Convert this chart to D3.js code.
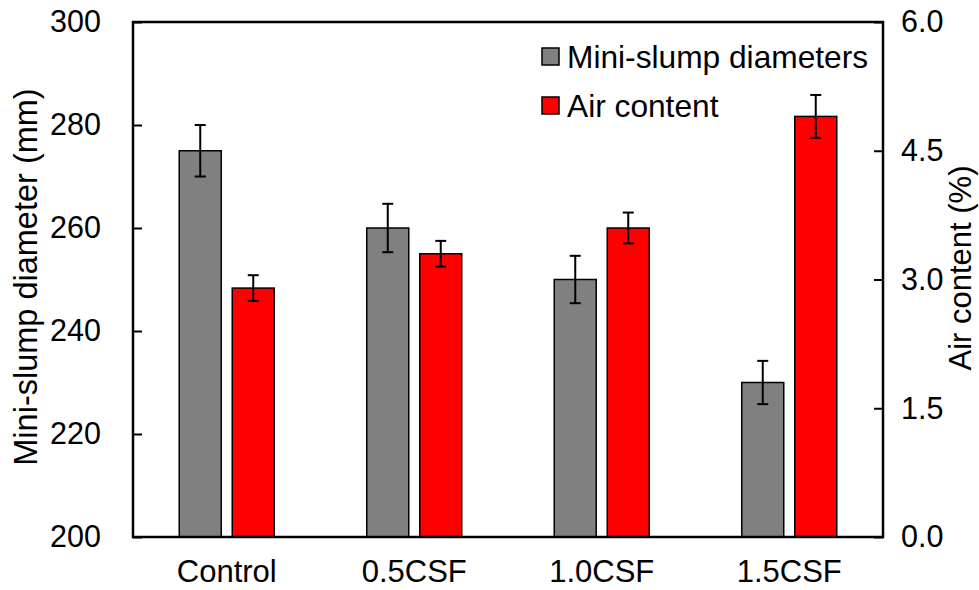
<!DOCTYPE html>
<html>
<head>
<meta charset="utf-8">
<script src="https://cdn.jsdelivr.net/npm/d3@7"></script>
<style>
  html, body { margin: 0; padding: 0; background: #fff; }
  svg { display: block; font-family: "Liberation Sans", Arial, sans-serif; }
</style>
</head>
<body>
<svg id="chart" width="979" height="590"></svg>
<script>
// data
const categories = ['Control', '0.5CSF', '1.0CSF', '1.5CSF'];
const slumpValues = [275, 260, 250, 230];
const slumpErrors = [5, 4.7, 4.6, 4.2];
const airValues = [2.9, 3.3, 3.6, 4.9];
const airErrors = [0.15, 0.15, 0.18, 0.25];
const leftTicks = [200, 220, 240, 260, 280, 300];
const rightTicks = [0, 1.5, 3.0, 4.5, 6.0];
const seriesNames = ['Mini-slump diameters', 'Air content'];
const seriesColors = ['#808080', '#ff0000'];

const margin = {top: 22, right: 96, bottom: 53, left: 133};
const W = 979, H = 590;
const w = W - margin.left - margin.right;
const h = H - margin.top - margin.bottom;

const svg = d3.select('#chart');
const g = svg.append('g').attr('transform', `translate(${margin.left},${margin.top})`);

const x = d3.scaleBand().domain(categories).range([0, w]).padding(0);
const x1 = d3.scaleBand().domain([0, 1]).range([-47.5, 47.5]).paddingInner(0.2075).paddingOuter(0);
const yL = d3.scaleLinear().domain([200, 300]).range([h, 0]);
const yR = d3.scaleLinear().domain([0, 6]).range([h, 0]);

const rows = categories.map((c, i) => ({
  cat: c,
  bars: [
    {s: 0, v: slumpValues[i], e: slumpErrors[i], y: yL},
    {s: 1, v: airValues[i], e: airErrors[i], y: yR}
  ]
}));

const groups = g.selectAll('g.grp')
  .data(rows)
  .join('g')
  .attr('class', 'grp')
  .attr('transform', d => `translate(${x(d.cat) + x.bandwidth() / 2},0)`);

groups.selectAll('rect')
  .data(d => d.bars)
  .join('rect')
  .attr('x', d => x1(d.s))
  .attr('width', x1.bandwidth())
  .attr('y', d => d.y(d.v))
  .attr('height', d => h - d.y(d.v))
  .attr('fill', d => seriesColors[d.s])
  .attr('stroke', '#000')
  .attr('stroke-width', 1.5);

// error bars
const cap = 5.5;
const err = groups.selectAll('g.err')
  .data(d => d.bars)
  .join('g')
  .attr('class', 'err')
  .attr('stroke', '#000')
  .attr('stroke-width', 2);
const cx = d => x1(d.s) + x1.bandwidth() / 2;
err.append('line')
  .attr('x1', cx).attr('x2', cx)
  .attr('y1', d => d.y(d.v + d.e))
  .attr('y2', d => d.y(d.v - d.e));
err.append('line')
  .attr('x1', d => cx(d) - cap).attr('x2', d => cx(d) + cap)
  .attr('y1', d => d.y(d.v + d.e))
  .attr('y2', d => d.y(d.v + d.e));
err.append('line')
  .attr('x1', d => cx(d) - cap).attr('x2', d => cx(d) + cap)
  .attr('y1', d => d.y(d.v - d.e))
  .attr('y2', d => d.y(d.v - d.e));

// axes
const tickFont = 30.5;
const axL = g.append('g')
  .call(d3.axisLeft(yL).tickValues(leftTicks).tickSizeInner(-9).tickSizeOuter(0).tickPadding(32));
const axR = g.append('g')
  .attr('transform', `translate(${w},0)`)
  .call(d3.axisRight(yR).tickValues(rightTicks).tickFormat(d3.format('.1f')).tickSizeInner(-9).tickSizeOuter(0).tickPadding(18));
const axB = g.append('g')
  .attr('transform', `translate(0,${h})`)
  .call(d3.axisBottom(x).tickSize(0).tickPadding(23));

[axL, axR, axB].forEach(a => {
  a.select('.domain').remove();
  a.selectAll('line').attr('stroke', '#000').attr('stroke-width', 2);
  a.selectAll('text').attr('font-size', tickFont).attr('fill', '#000')
    .attr('font-family', '"Liberation Sans", Arial, sans-serif');
});
axB.selectAll('text').attr('font-size', 31);

// plot frame
g.append('rect')
  .attr('width', w).attr('height', h)
  .attr('fill', 'none').attr('stroke', '#000').attr('stroke-width', 2.5);

// axis titles
svg.append('text')
  .attr('transform', 'translate(37,277) rotate(-90)')
  .attr('text-anchor', 'middle')
  .attr('font-size', 32.5)
  .text('Mini-slump diameter (mm)');
svg.append('text')
  .attr('transform', 'translate(971,268) rotate(-90)')
  .attr('text-anchor', 'middle')
  .attr('font-size', 31)
  .text('Air content (%)');

// legend
const legend = g.append('g').attr('transform', 'translate(409,26)');
const li = legend.selectAll('g')
  .data(seriesNames)
  .join('g')
  .attr('transform', (d, i) => `translate(0,${i * 49})`);
li.append('rect')
  .attr('width', 17).attr('height', 17)
  .attr('fill', (d, i) => seriesColors[i])
  .attr('stroke', '#000').attr('stroke-width', 1.5);
li.append('text')
  .attr('x', 25).attr('y', 8.5)
  .attr('dy', '0.36em')
  .attr('font-size', 31.7)
  .text(d => d);
</script>
</body>
</html>
